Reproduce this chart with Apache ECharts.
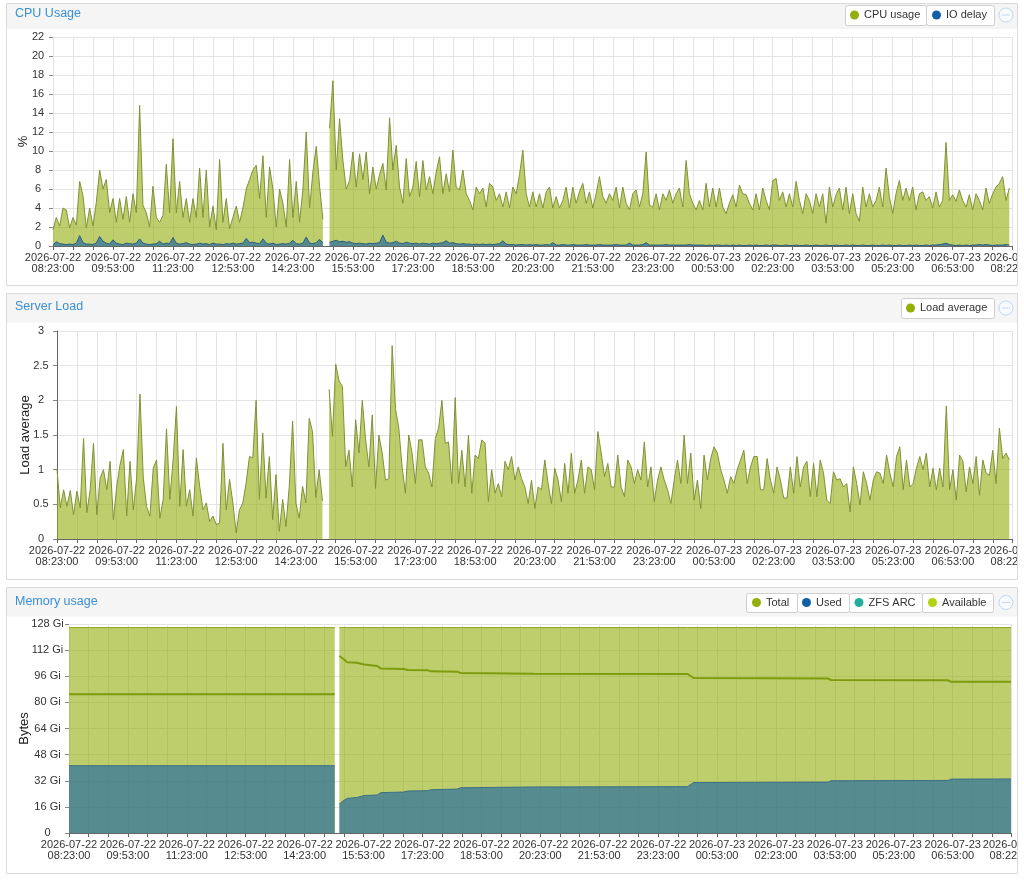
<!DOCTYPE html>
<html><head><meta charset="utf-8">
<script src="https://cdn.jsdelivr.net/npm/echarts@6/dist/echarts.min.js"></script>
<style>html,body{margin:0;padding:0;background:#fff;}#c{width:1024px;height:881px;}</style>
</head><body><div id="c"></div>
<script>
// ---- time base (minutes after 2026-07-22 08:23:00) ----
const START_UTC = Date.UTC(2026, 6, 22, 8, 23, 0);
const SPAN_MIN = 1439;
const STEP_MIN = 5;

// ---- CPU usage (%) , one sample every 5 minutes, null = no data ----
const cpuUsage = [
1.7,3.0,2.1,4.0,3.8,1.9,3.0,2.2,6.8,5.3,
1.9,4.0,2.1,4.6,8.0,6.0,7.0,3.5,5.0,2.5,
5.0,2.8,5.2,2.5,5.5,3.5,14.8,4.3,3.5,2.0,
6.3,3.0,2.5,3.2,8.6,3.5,11.3,3.5,6.8,3.0,
5.0,2.5,5.0,3.0,8.2,3.0,8.0,2.0,4.2,1.7,
9.1,2.5,5.0,1.8,3.0,4.2,2.5,4.0,6.0,7.0,
8.0,8.5,5.0,9.5,3.0,8.3,6.0,2.0,6.0,4.5,
2.0,9.1,3.0,6.8,2.5,6.0,12.0,4.0,7.8,10.5,
6.3,2.8,
null,
12.4,17.4,8.0,13.4,9.0,6.0,6.9,9.9,6.2,9.7,
7.0,9.9,5.5,8.3,6.0,7.5,8.7,5.9,13.5,8.0,
10.6,6.2,4.5,9.2,5.2,6.2,8.9,5.2,9.0,5.9,
7.3,5.5,7.8,9.4,5.5,7.6,5.7,10.1,6.2,5.9,
8.0,5.5,4.8,3.8,6.2,5.5,6.1,4.1,6.6,6.2,
4.8,5.5,4.1,5.7,4.0,6.2,5.5,7.5,10.1,5.5,
4.1,5.7,4.1,5.5,4.0,5.7,6.2,4.0,5.2,4.0,
4.8,6.2,4.0,6.2,4.5,5.7,6.6,4.5,5.7,4.0,
5.5,7.3,5.2,4.5,5.5,4.8,6.2,4.0,6.2,4.5,
3.8,5.5,5.9,4.1,5.5,9.9,4.3,4.1,5.5,3.8,
5.5,4.8,5.9,4.5,5.5,6.1,4.1,9.0,5.5,4.5,
3.8,4.8,
3.8,6.6,4.1,6.1,4.1,6.1,4.1,3.4,4.5,5.4,
4.1,6.4,5.5,5.4,4.5,3.8,5.5,3.8,6.1,4.8,
3.8,6.9,7.1,4.8,5.7,4.1,5.5,4.1,6.8,4.8,
3.4,5.5,4.8,3.4,5.5,4.1,5.5,2.4,6.2,4.1,
5.4,6.1,3.8,6.2,3.4,5.5,3.4,2.6,6.2,4.1,
5.5,4.1,4.8,6.2,4.1,8.2,5.2,3.4,5.5,6.9,
4.8,6.1,4.8,6.2,3.8,5.5,5.7,4.8,5.2,4.0,
5.7,4.1,4.8,10.9,4.8,5.4,4.7,5.9,4.8,4.1,
5.4,3.8,5.5,4.8,3.8,6.1,4.5,5.5,6.2,6.6,
7.3,4.8,6.1
];

// ---- IO delay (%) ----
const ioDelay = [
0.1,0.45,0.25,0.2,0.15,0.2,0.15,0.3,1.1,0.35,
0.2,0.2,0.15,0.3,1.0,0.5,0.3,0.2,0.65,0.3,
0.2,0.15,0.3,0.25,0.2,0.3,0.75,0.3,0.2,0.15,
0.2,0.25,0.5,0.2,0.3,0.25,0.9,0.3,0.2,0.25,
0.35,0.2,0.15,0.2,0.3,0.2,0.25,0.15,0.3,0.2,
0.2,0.15,0.25,0.2,0.3,0.2,0.25,0.3,0.8,0.35,
0.4,0.3,0.25,0.75,0.3,0.2,0.3,0.15,0.2,0.25,
0.2,0.3,0.6,0.25,0.2,0.3,0.95,0.3,0.25,0.35,
0.7,0.3,
null,
0.4,0.5,0.6,0.45,0.5,0.4,0.45,0.3,0.25,0.3,
0.25,0.2,0.3,0.25,0.3,0.35,1.15,0.4,0.3,0.35,
0.5,0.3,0.25,0.4,0.3,0.25,0.3,0.2,0.3,0.25,
0.2,0.3,0.25,0.3,0.35,0.55,0.3,0.35,0.25,0.2,
0.25,0.2,0.2,0.15,0.2,0.15,0.2,0.15,0.2,0.15,
0.2,0.25,0.55,0.2,0.15,0.15,0.1,0.15,0.15,0.1,
0.15,0.1,0.15,0.1,0.1,0.15,0.1,0.35,0.1,0.1,
0.15,0.1,0.1,0.15,0.1,0.1,0.1,0.15,0.1,0.1,
0.1,0.15,0.1,0.1,0.1,0.1,0.15,0.1,0.1,0.1,
0.3,0.1,0.1,0.1,0.15,0.35,0.1,0.1,0.1,0.1,
0.1,0.15,0.1,0.1,0.1,0.1,0.1,0.1,0.15,0.1,
0.1,0.1,
0.1,0.05,0.1,0.05,0.1,0.1,0.05,0.1,0.05,0.1,
0.05,0.1,0.05,0.05,0.1,0.05,0.1,0.05,0.05,0.1,
0.05,0.1,0.1,0.05,0.05,0.1,0.05,0.05,0.1,0.05,
0.05,0.1,0.05,0.05,0.1,0.05,0.05,0.1,0.05,0.05,
0.1,0.05,0.05,0.1,0.05,0.1,0.05,0.05,0.1,0.05,
0.05,0.1,0.05,0.05,0.1,0.05,0.1,0.05,0.05,0.1,
0.05,0.05,0.1,0.05,0.1,0.05,0.05,0.1,0.05,0.1,
0.1,0.15,0.2,0.3,0.15,0.1,0.05,0.1,0.05,0.1,
0.05,0.1,0.1,0.15,0.1,0.15,0.1,0.05,0.1,0.1,
0.1,0.15,0.1
];

// ---- Server load average ----
const loadAvg = [
1.0,0.45,0.71,0.47,0.70,0.35,0.69,0.45,1.45,0.38,
0.71,1.38,0.35,0.88,1.0,0.71,1.12,0.28,0.76,1.07,
1.29,0.33,1.12,0.42,0.88,2.09,0.88,0.47,0.33,1.02,
1.14,0.30,0.57,1.59,0.57,1.14,1.91,0.47,1.29,0.47,
0.71,0.33,1.17,0.76,0.42,0.52,0.25,0.33,0.21,0.23,
1.38,0.42,0.86,0.52,0.09,0.42,0.52,0.81,1.19,1.17,
2.0,0.57,1.53,0.59,1.19,0.28,0.93,0.11,0.57,0.18,
0.76,1.70,0.52,0.30,0.76,0.52,1.74,1.55,0.60,1.0,
0.55,
null,
2.16,1.48,2.52,2.28,2.20,1.04,1.28,0.75,1.72,1.24,
2.0,1.43,1.04,1.79,0.73,1.5,1.24,0.85,0.87,2.79,
1.88,1.6,1.04,0.66,1.5,1.24,0.80,1.43,1.43,1.04,
0.95,0.75,1.45,1.6,2.0,1.38,1.4,0.80,2.04,0.80,
1.28,0.75,1.5,0.66,1.21,1.16,1.43,1.38,0.54,1.0,
0.66,0.80,0.61,1.12,1.0,1.19,0.85,1.04,0.87,0.75,
0.51,0.85,0.44,0.75,0.71,1.14,0.80,0.51,1.02,0.85,
0.54,1.09,0.66,1.24,0.66,0.85,1.14,0.66,1.04,1.0,
0.71,1.55,1.24,0.90,1.09,0.75,0.75,1.21,0.75,0.61,
1.14,1.04,0.80,1.0,0.85,1.4,0.75,1.04,0.54,0.85,
1.04,0.85,0.71,0.51,0.85,1.14,0.80,1.5,0.80,1.24,
0.56,
0.85,0.44,1.21,0.85,1.16,1.33,1.24,1.0,0.85,0.66,
0.90,0.80,1.0,1.14,1.28,0.80,1.04,1.19,1.19,0.71,
0.71,1.16,0.85,0.66,1.04,0.85,0.59,0.59,1.04,0.66,
1.19,0.75,1.04,1.12,0.61,1.09,0.61,1.14,0.95,0.56,
0.51,0.97,0.85,0.87,0.75,0.80,0.39,1.04,0.80,0.49,
0.97,0.80,0.56,0.85,0.97,0.95,0.80,1.21,0.95,0.75,
1.19,1.33,0.71,1.14,0.75,0.80,1.02,1.19,1.0,1.24,
0.75,1.02,0.71,1.02,0.75,1.92,0.71,1.0,0.56,1.21,
1.12,0.68,1.04,0.80,1.19,0.63,1.14,0.95,0.92,1.28,
0.80,1.6,1.16,1.24,1.14
];

// ---- Memory (Gi) at read breakpoints (minutes) ----
const memTime      = [0,406,409,413,420,425,440,451,471,476,511,517,548,553,593,598,710,945,954,1160,1164,1343,1347,1439];
const memTotal     = [125.8,125.8,null,125.8,125.8,125.8,125.8,125.8,125.8,125.8,125.8,125.8,125.8,125.8,125.8,125.8,125.8,125.8,125.8,125.8,125.8,125.8,125.8,125.8];
const memUsed      = [41.2,41.2,null,17.8,20.0,21.2,21.8,22.9,23.3,24.7,25.1,25.7,25.9,26.5,26.9,27.7,28.2,28.4,30.9,31.2,32.0,32.2,33.0,33.1];
const memAvailable = [84.9,84.9,null,108.4,106.4,104.5,104.3,103.2,102.3,100.8,100.4,99.8,99.6,99.0,98.8,98.0,97.6,97.4,94.9,94.6,93.7,93.5,92.6,92.6];
const memZfsArc    = [];

// ---- axis ticks ----
const cpuTicks = {min: 0, max: 22, step: 2};
const loadTicks = {min: 0, max: 3, step: 0.5};
const memTicks = {min: 0, max: 128, step: 16};

// ---------------------------------------------------------------
const FONT = '"Liberation Sans", Arial, sans-serif';
const sampleTimes = cpuUsage.map((_, i) => i * STEP_MIN);
const pairs = (t, v) => v.map((y, i) => [t[i], y == null ? '-' : y]);

function fmtTime(v) {
  const d = new Date(START_UTC + v * 60000);
  const p = n => String(n).padStart(2, '0');
  return d.getUTCFullYear() + '-' + p(d.getUTCMonth() + 1) + '-' + p(d.getUTCDate()) + '\n' +
         p(d.getUTCHours()) + ':' + p(d.getUTCMinutes()) + ':' + p(d.getUTCSeconds());
}

function xAxisCfg(gi) {
  return {
    type: 'value', gridIndex: gi, min: 0, max: SPAN_MIN, interval: 30,
    axisLine: {show: true, lineStyle: {color: '#666', width: 1}},
    axisTick: {show: true, length: 4, lineStyle: {color: '#666'}},
    axisLabel: {
      formatter: v => (v % 90 === 0 || v === SPAN_MIN) ? fmtTime(v) : '',
      showMaxLabel: true, showMinLabel: true, hideOverlap: false,
      fontSize: 11, lineHeight: 11.5, color: '#333', margin: 6, fontFamily: FONT
    },
    splitLine: {show: true, lineStyle: {color: '#e4e4e4'}}
  };
}
function yAxisCfg(gi, t, name, gap, margin, axisLineShow, fmt) {
  return {
    type: 'value', gridIndex: gi, min: t.min, max: t.max, interval: t.step,
    name: name, nameLocation: 'middle', nameGap: gap, nameRotate: 90, nameMoveOverlap: false,
    nameTextStyle: {fontSize: 13, color: '#222', fontFamily: FONT},
    axisLine: {show: axisLineShow, lineStyle: {color: '#666'}},
    axisTick: {show: true, length: 4, lineStyle: {color: '#888'}},
    axisLabel: {align: 'center', margin: margin, fontSize: 11, color: '#333', fontFamily: FONT, formatter: fmt},
    splitLine: {show: true, lineStyle: {color: '#e4e4e4'}}
  };
}

const GREEN = 'rgb(148,174,10)';
const BLUE = 'rgb(17,95,166)';
function lineSeries(name, xi, data, o) {
  return Object.assign({
    name: name, type: 'line', xAxisIndex: xi, yAxisIndex: xi, data: data,
    symbol: 'none', showSymbol: false, connectNulls: false, silent: true,
    emphasis: {disabled: true}, animation: false
  }, o);
}

function legendItem(name, left, top) {
  return {
    data: [name], left: left, top: top, padding: 0, itemGap: 0,
    itemWidth: 9, itemHeight: 9, icon: 'circle', selectedMode: false,
    textStyle: {fontSize: 11, color: '#333', fontFamily: FONT, lineHeight: 14}
  };
}
function btn(x, y, w, h) {
  return {type: 'rect', z: 1, shape: {x: x + 0.5, y: y + 0.5, width: w, height: h, r: 2},
          style: {fill: '#fff', stroke: '#cfcfcf', lineWidth: 1}};
}
function collapseIcon(cx, cy) {
  return [
    {type: 'circle', z: 1, shape: {cx: cx, cy: cy, r: 7}, style: {fill: '#f8fbfe', stroke: '#c2d7ee', lineWidth: 1}},
    {type: 'line', z: 1, shape: {x1: cx - 4, y1: cy, x2: cx + 4, y2: cy}, style: {stroke: '#c2d7ee', lineWidth: 1}}
  ];
}
function panel(y1, hy2, y2) {
  return [
    {type: 'rect', z: -10, shape: {x: 7, y: y1 + 0.5, width: 1010, height: hy2 - y1}, style: {fill: '#f5f5f5'}},
    {type: 'rect', z: 101, shape: {x: 6.5, y: y1 + 0.5, width: 1011, height: y2 - y1}, style: {fill: 'none', stroke: '#dadada', lineWidth: 1}}
  ];
}
function gridCfg(left, top, width, height) {
  return {left: left, top: top, width: width, height: height, containLabel: false, outerBoundsMode: 'none'};
}

const option = {
  animation: false,
  backgroundColor: '#fff',
  textStyle: {fontFamily: FONT},
  title: [
    {text: 'CPU Usage', left: 15, top: 7, padding: 0, textStyle: {fontSize: 12.5, fontWeight: 'normal', color: '#3a8fd5', fontFamily: FONT}},
    {text: 'Server Load', left: 15, top: 300, padding: 0, textStyle: {fontSize: 12.5, fontWeight: 'normal', color: '#3a8fd5', fontFamily: FONT}},
    {text: 'Memory usage', left: 15, top: 595, padding: 0, textStyle: {fontSize: 12.5, fontWeight: 'normal', color: '#3a8fd5', fontFamily: FONT}}
  ],
  legend: [
    legendItem('CPU usage', 850, 8),
    legendItem('IO delay', 932, 8),
    legendItem('Load average', 906, 301),
    legendItem('Total', 752, 595.5),
    legendItem('Used', 802, 595.5),
    legendItem('ZFS ARC', 854.5, 595.5),
    legendItem('Available', 928, 595.5)
  ],
  grid: [
    gridCfg(53, 37, 959, 209),
    gridCfg(57, 331, 955, 208),
    gridCfg(69, 624, 942, 209)
  ],
  xAxis: [xAxisCfg(0), xAxisCfg(1), xAxisCfg(2)],
  yAxis: [
    yAxisCfg(0, cpuTicks, '%', 23, 15, false),
    yAxisCfg(1, loadTicks, 'Load average', 25, 16, true),
    yAxisCfg(2, memTicks, 'Bytes', 38, 21.5, false, v => v === 0 ? '0' : v + ' Gi')
  ],
  series: [
    lineSeries('CPU usage', 0, pairs(sampleTimes, cpuUsage), {
      itemStyle: {color: '#94ae0a'}, lineStyle: {color: '#7f9236', width: 1}, areaStyle: {color: GREEN, opacity: 0.6}}),
    lineSeries('IO delay', 0, pairs(sampleTimes, ioDelay), {
      itemStyle: {color: '#115fa6'}, lineStyle: {color: '#2c5d7c', width: 1}, areaStyle: {color: BLUE, opacity: 0.62}}),
    lineSeries('Load average', 1, pairs(sampleTimes, loadAvg), {
      itemStyle: {color: '#94ae0a'}, lineStyle: {color: '#7f9236', width: 1}, areaStyle: {color: GREEN, opacity: 0.6}}),
    lineSeries('Total', 2, pairs(memTime, memTotal), {
      itemStyle: {color: '#94ae0a'}, lineStyle: {color: '#8fa426', width: 1}, areaStyle: {color: GREEN, opacity: 0.6}}),
    lineSeries('Used', 2, pairs(memTime, memUsed), {
      itemStyle: {color: '#115fa6'}, lineStyle: {color: '#3b6f86', width: 1}, areaStyle: {color: BLUE, opacity: 0.6}}),
    lineSeries('ZFS ARC', 2, memZfsArc, {
      itemStyle: {color: '#24ad9a'}, lineStyle: {color: '#24ad9a', width: 1}}),
    lineSeries('Available', 2, pairs(memTime, memAvailable), {
      itemStyle: {color: '#b4d20e'}, lineStyle: {color: '#7e9b0c', width: 2}})
  ],
  graphic: [].concat(
    panel(3, 28.5, 285),
    panel(293, 322, 579),
    panel(587, 616, 873),
    [btn(845, 5, 81, 20), btn(926, 5, 68, 20)],
    [btn(901, 298, 93, 20)],
    [btn(746, 593, 51, 19), btn(797, 593, 52, 19), btn(849, 593, 73, 19), btn(922, 593, 71, 19)],
    collapseIcon(1006, 15), collapseIcon(1006, 308), collapseIcon(1006, 602.5),
    [{type: 'rect', z: 100, shape: {x: 1017.5, y: 0, width: 8, height: 881}, style: {fill: '#fff'}}]
  )
};

const chart = echarts.init(document.getElementById('c'), null, {renderer: 'canvas'});
chart.setOption(option);
</script>
</body></html>
